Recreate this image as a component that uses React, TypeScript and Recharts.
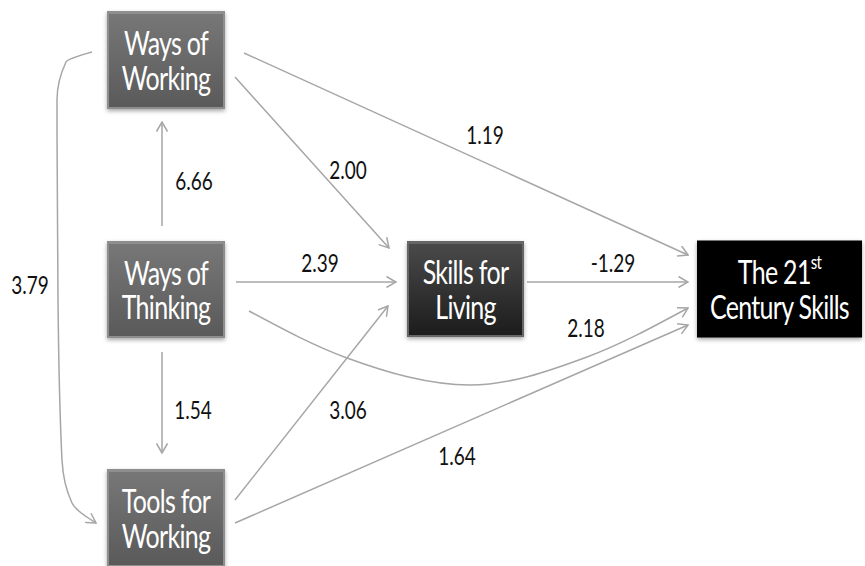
import React from 'react';
import { ComposedChart, Line, Scatter, XAxis, YAxis } from 'recharts';

// path model: coefficients between the constructs
const nodeIds = ['wow', 'wot', 'tfw', 'sfl', 'c21'];
const nodeLine1 = ['Ways of', 'Ways of', 'Tools for', 'Skills for', 'The 21'];
const nodeLine2 = ['Working', 'Thinking', 'Working', 'Living', 'Century Skills'];

const pathFrom = ['wot', 'wot', 'wow', 'wow', 'wow', 'wot', 'sfl', 'wot', 'tfw', 'tfw'];
const pathTo = ['wow', 'tfw', 'tfw', 'sfl', 'c21', 'sfl', 'c21', 'c21', 'sfl', 'c21'];
const pathCoef = [6.66, 1.54, 3.79, 2.0, 1.19, 2.39, -1.29, 2.18, 3.06, 1.64];

// diagram layout (diagram units)
const nodeCenterX = [166, 166, 166, 465.5, 779.5];
const nodeCenterY = [60, 289.5, 518, 289, 289];

const pathRoutes: number[][][] = [
  [[162, 226], [162, 122]],
  [[162, 352], [162, 453]],
  [[92, 52], [66, 62], [57, 100], [58, 300], [62, 460], [72, 503], [96, 523]],
  [[235, 77], [389, 248]],
  [[244, 53], [688, 255]],
  [[236, 282], [396, 282]],
  [[527, 282], [688, 282]],
  [[249, 311], [347, 358], [470, 385], [587, 357], [688, 308]],
  [[235, 500], [388, 306]],
  [[235, 523], [688, 325]],
];
const pathCurve = ['linear', 'linear', 'monotoneY', 'linear', 'linear', 'linear', 'linear', 'monotoneX', 'linear', 'linear'];
const labelX = [194, 193, 30, 348, 485, 320, 613, 586, 348, 457];
const labelY = [181, 410, 285, 170, 135, 263, 263, 328, 410, 456];

const BOX: Record<string, { w: number; h: number; top: string; bottom: string; rim: string }> = {
  wow: { w: 118, h: 98, top: '#777777', bottom: '#5a5a5a', rim: '#8e8e8e' },
  wot: { w: 118, h: 97, top: '#777777', bottom: '#5a5a5a', rim: '#8e8e8e' },
  tfw: { w: 118, h: 98, top: '#777777', bottom: '#5a5a5a', rim: '#8e8e8e' },
  sfl: { w: 117, h: 96, top: '#4a4a4a', bottom: '#1c1c1c', rim: '#666666' },
  c21: { w: 165, h: 97, top: '#000000', bottom: '#000000', rim: '#000000' },
};

const FONT = 'Lato, "Open Sans", sans-serif';

const nodeData = nodeIds.map((id, i) => ({
  id,
  x: nodeCenterX[i],
  y: nodeCenterY[i],
  line1: nodeLine1[i],
  line2: nodeLine2[i],
}));

const labelData = pathCoef.map((v, i) => ({
  x: labelX[i],
  y: labelY[i],
  text: v.toFixed(2),
  from: pathFrom[i],
  to: pathTo[i],
}));

const NodeBox = (props: any) => {
  const { cx, cy, payload } = props;
  if (cx == null || cy == null) return null;
  const b = BOX[payload.id];
  const left = cx - b.w / 2;
  const top = cy - b.h / 2;
  const isC21 = payload.id === 'c21';
  return (
    <g>
      <rect x={left} y={top} width={b.w} height={b.h} fill={b.rim} filter="url(#nodeShadow)" />
      <rect x={left + 2} y={top + 3} width={b.w - 4} height={b.h - 5} fill={`url(#grad-${payload.id})`} />
      <g transform={`translate(${cx},${cy - 5}) scale(1,1.33)`}>
        <text textAnchor="middle" fill="#fff" fontFamily={FONT} fontSize={25} letterSpacing={-0.7}>
          <tspan x={0} y={0}>{payload.line1}</tspan>
          {isC21 && (
            <tspan fontSize={15} dy={-11}>st</tspan>
          )}
          <tspan x={0} y={26.3}>{payload.line2}</tspan>
        </text>
      </g>
    </g>
  );
};

const CoefLabel = (props: any) => {
  const { cx, cy, payload } = props;
  if (cx == null || cy == null) return null;
  return (
    <g transform={`translate(${cx},${cy + 9}) scale(1,1.3)`}>
      <text textAnchor="middle" fill="#111" fontFamily={FONT} fontSize={19}>
        {payload.text}
      </text>
    </g>
  );
};

export default function App() {
  return (
    <div style={{ position: 'absolute', left: 0, top: 0, width: 865, height: 566, background: '#fff' }}>
      <ComposedChart width={865} height={566} margin={{ top: 0, right: 0, bottom: 0, left: 0 }}>
        <defs>
          <marker id="arrowHead" viewBox="0 0 12 12" refX={11} refY={6} markerWidth={12} markerHeight={12}
            markerUnits="userSpaceOnUse" orient="auto">
            <path d="M1.5,0.5 L11,6 L1.5,11.5" fill="none" stroke="#a6a6a6" strokeWidth={1.5} />
          </marker>
          <filter id="nodeShadow" x="-20%" y="-20%" width="140%" height="150%">
            <feDropShadow dx={0} dy={2} stdDeviation={2} floodColor="#000" floodOpacity={0.35} />
          </filter>
          {nodeIds.map((id) => (
            <linearGradient key={id} id={`grad-${id}`} x1="0" y1="0" x2="0" y2="1">
              <stop offset="0%" stopColor={BOX[id].top} />
              <stop offset="100%" stopColor={BOX[id].bottom} />
            </linearGradient>
          ))}
        </defs>
        <XAxis type="number" dataKey="x" domain={[0, 865]} hide />
        <YAxis type="number" dataKey="y" domain={[0, 566]} reversed hide />
        {pathRoutes.map((route, i) => (
          <Line
            key={`path-${i}`}
            data={route.map(([x, y]) => ({ x, y }))}
            dataKey="y"
            type={pathCurve[i] as any}
            stroke="#a6a6a6"
            strokeWidth={1.5}
            dot={false}
            activeDot={false}
            markerEnd="url(#arrowHead)"
            isAnimationActive={false}
          />
        ))}
        <Scatter data={nodeData} dataKey="y" shape={NodeBox} isAnimationActive={false} />
        <Scatter data={labelData} dataKey="y" shape={CoefLabel} isAnimationActive={false} />
      </ComposedChart>
    </div>
  );
}
